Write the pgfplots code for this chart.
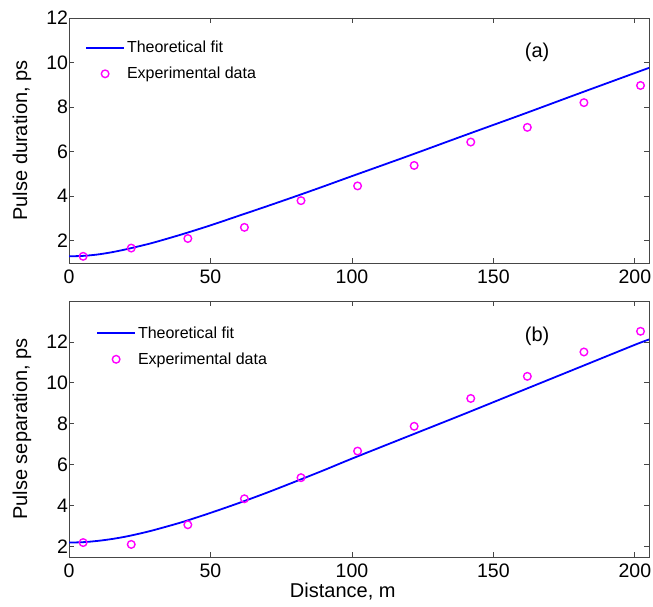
\documentclass[border=0pt]{standalone}
\usepackage{fontspec}
\setmainfont{Liberation Sans}
\usepackage{pgfplots}
\pgfplotsset{compat=1.18}
\definecolor{fitblue}{RGB}{0,0,255}
\definecolor{expmag}{RGB}{255,0,255}
\definecolor{axgray}{RGB}{70,70,70}

\pgfplotsset{
  pulse/.style={
    scale only axis, width=580pt,
    xmin=0, xmax=205, xtick={0,50,...,200}, ytick={2,4,...,12},
    tick align=inside, major tick length=5pt,
    axis line style={axgray, line width=0.8pt},
    tick style={axgray, line width=0.8pt},
    /pgf/number format/assume math mode=true,
    tick label style={font=\fontsize{19.5}{23}\selectfont},
    xticklabel style={yshift=-3.5pt},
    yticklabel style={xshift=2.5pt},
    label style={font=\fontsize{20}{24}\selectfont},
    ylabel style={at={(axis description cs:-0.081,0.5)}, anchor=center},
    legend cell align=left,
    legend style={draw=none, fill=none, inner xsep=0pt, inner ysep=0pt,
      row sep=8.9pt, font=\fontsize{16}{19}\selectfont, anchor=north west},
  },
  fitline/.style={fitblue, line width=1.8pt, no marks, smooth,
    legend image code/.code={\draw[##1] (0pt,0pt) -- (38pt,0pt);}},
  expdata/.style={only marks, mark=o, mark size=3.8pt,
    mark options={expmag, line width=1.4pt},
    legend image code/.code={\draw[mark repeat=2,mark phase=2,##1]
      plot coordinates {(0pt,0pt) (19pt,0pt) (38pt,0pt)};}},
}

\begin{document}
\begin{tikzpicture}
\path[use as bounding box] (0,0) rectangle (653pt,606pt);

% (a) pulse duration
\begin{axis}[pulse, at={(69pt,343pt)}, anchor=south west, height=245pt,
    ymin=1, ymax=12, ylabel={Pulse duration, ps},
    legend style={at={(0.0276,0.914)}}]
\addplot[fitline]
  coordinates {(0,1.30) (5,1.32) (10,1.38) (15,1.48) (20,1.61) (25,1.76)
    (30,1.92) (40,2.29) (50,2.69) (60,3.12) (70,3.55) (80,3.99) (90,4.44)
    (100,4.90) (120,5.81) (140,6.74) (160,7.66) (180,8.60) (200,9.53) (205,9.76)};
\addlegendentry{Theoretical fit}
\addplot[expdata]
  coordinates {(5,1.30) (22,1.67) (42,2.10) (62,2.60) (82,3.80) (102,4.46)
    (122,5.38) (142,6.43) (162,7.09) (182,8.20) (202,8.97)};
\addlegendentry{Experimental data}
\node[font=\fontsize{20}{24}\selectfont] at (axis description cs:0.807,0.859) {(a)};
\end{axis}

% (b) pulse separation
\begin{axis}[pulse, at={(69pt,49.1pt)}, anchor=south west, height=255.9pt,
    ymin=1.5, ymax=14, ylabel={Pulse separation, ps},
    xlabel={Distance, m},
    xlabel style={at={(axis description cs:0.472,-0.160)}, anchor=base},
    legend style={at={(0.0466,0.908)}}]
\addplot[fitline]
  coordinates {(0,2.20) (5,2.22) (10,2.28) (15,2.37) (20,2.49) (25,2.64)
    (30,2.81) (40,3.20) (50,3.65) (60,4.13) (70,4.64) (80,5.18) (90,5.73)
    (100,6.30) (120,7.40) (140,8.50) (160,9.62) (180,10.74) (200,11.86) (205,12.12)};
\addlegendentry{Theoretical fit}
\addplot[expdata]
  coordinates {(5,2.20) (22,2.11) (42,3.07) (62,4.34) (82,5.37) (102,6.67)
    (122,7.88) (142,9.24) (162,10.32) (182,11.51) (202,12.52)};
\addlegendentry{Experimental data}
\node[font=\fontsize{20}{24}\selectfont] at (axis description cs:0.807,0.861) {(b)};
\end{axis}
\end{tikzpicture}
\end{document}
